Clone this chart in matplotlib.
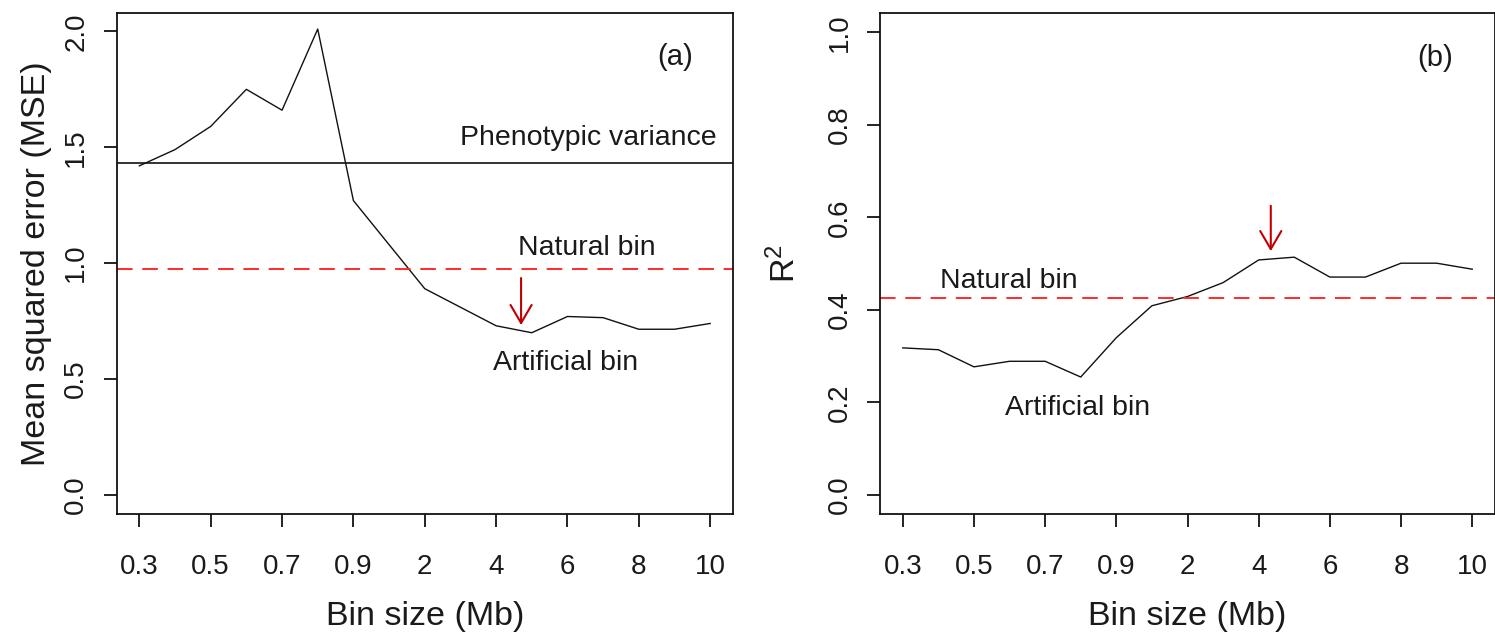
import numpy as np
import matplotlib
matplotlib.use("Agg")
import matplotlib.pyplot as plt

plt.rcParams['font.family'] = ['Liberation Sans', 'DejaVu Sans']
plt.rcParams['mathtext.fontset'] = 'custom'
plt.rcParams['mathtext.rm'] = 'Liberation Sans'
plt.rcParams['mathtext.it'] = 'Liberation Sans'
plt.rcParams['mathtext.default'] = 'regular'

# ---- data ----
bins = ["0.3", "0.4", "0.5", "0.6", "0.7", "0.8", "0.9", "1", "2", "3",
        "4", "5", "6", "7", "8", "9", "10"]
tick_labels = ["0.3", "0.5", "0.7", "0.9", "2", "4", "6", "8", "10"]
mse = [1.42, 1.49, 1.59, 1.75, 1.66, 2.01, 1.27, 1.08, 0.89, 0.81,
       0.73, 0.70, 0.77, 0.765, 0.715, 0.715, 0.74]
r2 = [0.318, 0.314, 0.277, 0.289, 0.289, 0.255, 0.34, 0.409, 0.429, 0.459,
      0.508, 0.514, 0.471, 0.471, 0.501, 0.501, 0.488]
phenotypic_variance = 1.431
natural_mse = 0.974
natural_r2 = 0.425
mse_yticks = [0.0, 0.5, 1.0, 1.5, 2.0]
r2_yticks = [0.0, 0.2, 0.4, 0.6, 0.8, 1.0]

TXT = '#1a1a1a'
RED = '#ff2a2a'
DARKRED = '#c00000'

fig = plt.figure(figsize=(14.95, 6.32), dpi=100)
W, H = 1495.0, 632.0
axa = fig.add_axes([116.5 / W, (H - 514) / H, 616.5 / W, 500.7 / H])
axb = fig.add_axes([880 / W, (H - 514) / H, 615 / W, 500.7 / H])

x = np.arange(len(bins))
tick_pos = [bins.index(t) for t in tick_labels]


def style(ax, yticks, ylim):
    ax.set_xlim(-0.64, len(bins) - 1 + 0.64)
    ax.set_ylim(*ylim)
    for s in ax.spines.values():
        s.set_linewidth(1.3)
        s.set_color('#111111')
    ax.set_xticks(tick_pos)
    ax.set_xticklabels(tick_labels)
    ax.set_yticks(yticks)
    ax.set_yticklabels([f"{v:.1f}" for v in yticks])
    ax.tick_params(axis='both', direction='out', length=9.5, width=1.3,
                   color='#111111', labelsize=20, labelcolor=TXT)
    ax.tick_params(axis='x', pad=19)
    ax.tick_params(axis='y', pad=14.5)
    for lab in ax.get_yticklabels():
        lab.set_rotation(90)
        lab.set_rotation_mode('anchor')
        lab.set_ha('center')
        lab.set_va('baseline')
    ax.set_xlabel("Bin size (Mb)", fontsize=24.5, color=TXT, va='baseline')
    ax.xaxis.set_label_coords(0.5, -(625 - 514) / 500.7)


# ---- panel (a) ----
axa.plot(x, mse, color='#111111', lw=1.0)
axa.axhline(phenotypic_variance, color='#111111', lw=1.2)
axa.axhline(natural_mse, color=RED, lw=1.4, dashes=(8, 5))
style(axa, mse_yticks, (-0.082, 2.078))
axa.set_ylabel("Mean squared error (MSE)", fontsize=24.5, color=TXT,
               rotation=90, rotation_mode='anchor', ha='center', va='baseline')
axa.yaxis.set_label_coords((45 - 116.5) / 616.5, 0.5)
axa.text(15.03, 1.855, "(a)", fontsize=21, ha='center', va='baseline', color=TXT)
axa.text(12.58, 1.51, "Phenotypic variance", fontsize=20.5, ha='center',
         va='baseline', color=TXT)
axa.text(12.53, 1.035, "Natural bin", fontsize=20.5, ha='center',
         va='baseline', color=TXT)
axa.text(11.95, 0.539, "Artificial bin", fontsize=20.5, ha='center',
         va='baseline', color=TXT)
axa.annotate('', xy=(10.7, 0.733), xytext=(10.7, 0.936),
             arrowprops=dict(arrowstyle='->,head_length=0.65,head_width=0.38',
                             color=DARKRED, lw=1.5, shrinkA=0, shrinkB=0,
                             mutation_scale=20))

# ---- panel (b) ----
axb.plot(x, r2, color='#111111', lw=1.0)
axb.axhline(natural_r2, color=RED, lw=1.4, dashes=(8, 5))
style(axb, r2_yticks, (-0.041, 1.041))
axb.set_ylabel(r"R$^2$", fontsize=24.5, color=TXT,
               rotation=90, rotation_mode='anchor', ha='center', va='baseline')
axb.yaxis.set_label_coords((795 - 880) / 615, 0.5)
axb.text(14.97, 0.927, "(b)", fontsize=21, ha='center', va='baseline', color=TXT)
axb.text(2.99, 0.447, "Natural bin", fontsize=20.5, ha='center',
         va='baseline', color=TXT)
axb.text(4.92, 0.173, "Artificial bin", fontsize=20.5, ha='center',
         va='baseline', color=TXT)
axb.annotate('', xy=(10.34, 0.527), xytext=(10.34, 0.625),
             arrowprops=dict(arrowstyle='->,head_length=0.65,head_width=0.38',
                             color=DARKRED, lw=1.5, shrinkA=0, shrinkB=0,
                             mutation_scale=20))

fig.savefig("out.png", dpi=100)
